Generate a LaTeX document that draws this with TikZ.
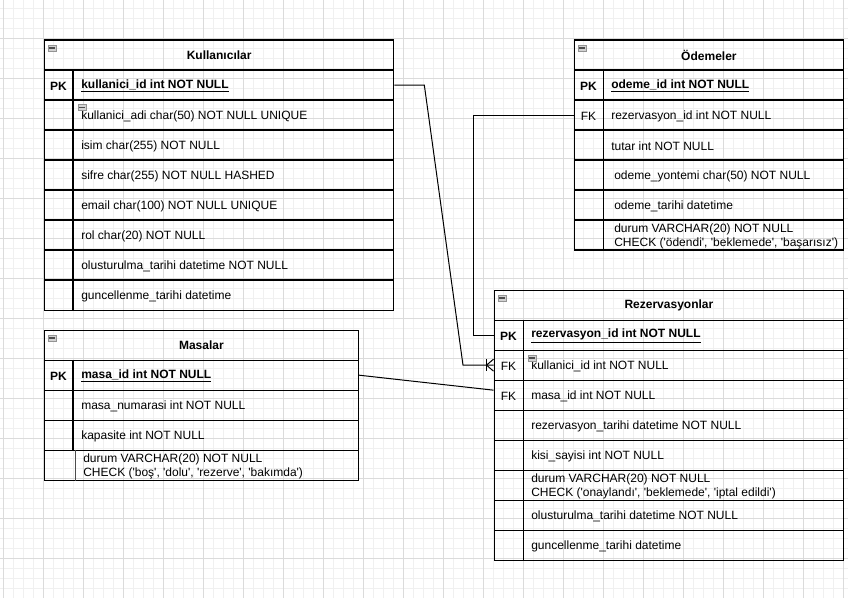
\documentclass[tikz,border=0pt]{standalone}
\usepackage{fontspec}
\newfontfamily\erfont{Liberation Sans}
\tikzset{
  tabhead/.style={draw, line width=1pt, anchor=north west, inner sep=0pt, minimum height=22.5pt, font=\erfont\fontsize{9}{10.5}\selectfont\bfseries},
  tabrow/.style={draw, line width=1pt, anchor=north west, inner sep=0pt, minimum height=22.5pt},
  tabline/.style={line width=1pt},
  keytxt/.style={anchor=center, inner sep=0pt, yshift=-1.2pt, font=\erfont\fontsize{9}{10.5}\selectfont},
  coltxt/.style={anchor=west, inner sep=0pt, yshift=-1.2pt, align=left, font=\erfont\fontsize{9}{10.5}\selectfont},
  collapse/.style={draw=gray!85, fill=gray!35, line width=0.4pt, inner sep=0pt, minimum width=6.3pt, minimum height=4.8pt,
    path picture={\draw[line width=1.3pt, black!70] ([xshift=1pt]path picture bounding box.west) -- ([xshift=-1pt]path picture bounding box.east);}},
  conn/.style={line width=0.75pt},
  gridminor/.style={line width=0.75pt, black!6},
  gridmajor/.style={line width=0.75pt, black!14},
}
\begin{document}
\begin{tikzpicture}[x=0.75pt,y=0.75pt,yscale=-1]
\useasboundingbox (0,0) rectangle (848,598);
\fill[white] (0,0) rectangle (848,598);

% Grid
\foreach \i in {0,...,84} \draw[gridminor] (\i*10+3.3,0) -- (\i*10+3.3,598);
\foreach \i in {0,...,59} \draw[gridminor] (0,\i*10+8.3) -- (848,\i*10+8.3);
\foreach \i in {0,...,21} \draw[gridmajor] (\i*40+3.3,0) -- (\i*40+3.3,598);
\foreach \i in {0,...,14} \draw[gridmajor] (0,\i*40+38.3) -- (848,\i*40+38.3);

%Table: Kullanicilar
\node [tabhead, minimum width=261.75pt] (kul) at (44,39.5) {Kullanıcılar};
\node [tabrow, minimum width=261.75pt] (kul1) at (44,69.5) {};
\node [tabrow, minimum width=261.75pt] (kul2) at (44,99.5) {};
\node [tabrow, minimum width=261.75pt] (kul3) at (44,129.5) {};
\node [tabrow, minimum width=261.75pt] (kul4) at (44,159.5) {};
\node [tabrow, minimum width=261.75pt] (kul5) at (44,189.5) {};
\node [tabrow, minimum width=261.75pt] (kul6) at (44,219.5) {};
\node [tabrow, minimum width=261.75pt] (kul7) at (44,249.5) {};
\node [tabrow, minimum width=261.75pt] (kul8) at (44,279.5) {};
\draw [tabline] ([xshift=21.75pt]kul1.north west) -- ([xshift=21.75pt]kul8.south west);
% Text Node
\node [keytxt] (kul1k) at (58.5,84.5) {\textbf{PK}};
\node [coltxt] (kul1t) at (81,84.5) {\underline{\textbf{kullanici\_id int NOT NULL}}};
\node [coltxt] (kul2t) at (81,114.5) {kullanici\_adi char(50) NOT NULL UNIQUE};
\node [coltxt] (kul3t) at (81,144.5) {isim char(255) NOT NULL};
\node [coltxt] (kul4t) at (81,174.5) {sifre char(255) NOT NULL HASHED};
\node [coltxt] (kul5t) at (81,204.5) {email char(100) NOT NULL UNIQUE};
\node [coltxt] (kul6t) at (81,234.5) {rol char(20) NOT NULL};
\node [coltxt] (kul7t) at (81,264.5) {olusturulma\_tarihi datetime NOT NULL};
\node [coltxt] (kul8t) at (81,294.5) {guncellenme\_tarihi datetime};
\node [collapse] (kulc) at (52,48) {};
\node [collapse] (kul2c) at (82,107.5) {};

%Table: Masalar
\node [tabhead, minimum width=235.125pt] (mas) at (44,329.5) {Masalar};
\node [tabrow, minimum width=235.125pt] (mas1) at (44,359.5) {};
\node [tabrow, minimum width=235.125pt] (mas2) at (44,389.5) {};
\node [tabrow, minimum width=235.125pt] (mas3) at (44,419.5) {};
\node [tabrow, minimum width=235.125pt] (mas4) at (44,449.5) {};
\draw [tabline] ([xshift=21.75pt]mas1.north west) -- ([xshift=21.75pt]mas3.south west);
\draw [line width=0.6pt, black!70] ([xshift=23.25pt]mas4.north west) -- ([xshift=23.25pt]mas4.south west);
% Text Node
\node [keytxt] (mas1k) at (58.5,374.5) {\textbf{PK}};
\node [coltxt] (mas1t) at (81,374.5) {\underline{\textbf{masa\_id int NOT NULL}}};
\node [coltxt] (mas2t) at (81,404.5) {masa\_numarasi int NOT NULL};
\node [coltxt] (mas3t) at (81,434.5) {kapasite int NOT NULL};
\node [coltxt] (mas4t) at (83,464.5) {durum VARCHAR(20) NOT NULL\\CHECK ('boş', 'dolu', 'rezerve', 'bakımda')};
\node [collapse] (masc) at (52,338) {};

%Table: Odemeler
\node [tabhead, minimum width=202.125pt] (ode) at (573.5,39.5) {Ödemeler};
\node [tabrow, minimum width=202.125pt] (ode1) at (573.5,69.5) {};
\node [tabrow, minimum width=202.125pt] (ode2) at (573.5,99.5) {};
\node [tabrow, minimum width=202.125pt] (ode3) at (573.5,129.5) {};
\node [tabrow, minimum width=202.125pt] (ode4) at (573.5,159.5) {};
\node [tabrow, minimum width=202.125pt] (ode5) at (573.5,189.5) {};
\node [tabrow, minimum width=202.125pt] (ode6) at (573.5,219.5) {};
\draw [tabline] ([xshift=22.5pt]ode1.north west) -- ([xshift=22.5pt]ode6.south west);
% Text Node
\node [keytxt] (ode1k) at (588.5,84.5) {\textbf{PK}};
\node [keytxt] (ode2k) at (588.5,114.5) {FK};
\node [coltxt] (ode1t) at (611,84.5) {\underline{\textbf{odeme\_id int NOT NULL}}};
\node [coltxt] (ode2t) at (611,114.5) {rezervasyon\_id int NOT NULL};
\node [coltxt] (ode3t) at (611,144.5) {tutar int NOT NULL};
\node [coltxt] (ode4t) at (614,174.5) {odeme\_yontemi char(50) NOT NULL};
\node [coltxt] (ode5t) at (614,204.5) {odeme\_tarihi datetime};
\node [coltxt] (ode6t) at (614,234.5) {durum VARCHAR(20) NOT NULL\\CHECK ('ödendi', 'beklemede', 'başarısız')};
\node [collapse] (odec) at (582,48) {};

%Table: Rezervasyonlar
\node [tabhead, minimum width=262.125pt] (rez) at (493.5,289.5) {Rezervasyonlar};
\node [tabrow, minimum width=262.125pt] (rez1) at (493.5,319.5) {};
\node [tabrow, minimum width=262.125pt] (rez2) at (493.5,349.5) {};
\node [tabrow, minimum width=262.125pt] (rez3) at (493.5,379.5) {};
\node [tabrow, minimum width=262.125pt] (rez4) at (493.5,409.5) {};
\node [tabrow, minimum width=262.125pt] (rez5) at (493.5,439.5) {};
\node [tabrow, minimum width=262.125pt] (rez6) at (493.5,469.5) {};
\node [tabrow, minimum width=262.125pt] (rez7) at (493.5,499.5) {};
\node [tabrow, minimum width=262.125pt] (rez8) at (493.5,529.5) {};
\draw [tabline] ([xshift=22.5pt]rez1.north west) -- ([xshift=22.5pt]rez8.south west);
% Text Node
\node [keytxt] (rez1k) at (508.5,334.5) {\textbf{PK}};
\node [keytxt] (rez2k) at (508.5,364.5) {FK};
\node [keytxt] (rez3k) at (508.5,394.5) {FK};
\node [coltxt] (rez1t) at (531,334.5) {\underline{\textbf{rezervasyon\_id int NOT NULL}}};
\node [coltxt] (rez2t) at (531,364.5) {kullanici\_id int NOT NULL};
\node [coltxt] (rez3t) at (531,394.5) {masa\_id int NOT NULL};
\node [coltxt] (rez4t) at (531,424.5) {rezervasyon\_tarihi datetime NOT NULL};
\node [coltxt] (rez5t) at (531,454.5) {kisi\_sayisi int NOT NULL};
\node [coltxt] (rez6t) at (531,484.5) {durum VARCHAR(20) NOT NULL\\CHECK ('onaylandı', 'beklemede', 'iptal edildi')};
\node [coltxt] (rez7t) at (531,514.5) {olusturulma\_tarihi datetime NOT NULL};
\node [coltxt] (rez8t) at (531,544.5) {guncellenme\_tarihi datetime};
\node [collapse] (rezc) at (502,298) {};
\node [collapse] (rez2c) at (532,358) {};

%Relations
\draw [conn] (kul1.east) -- ++(30,0) -- ([xshift=-22.875pt]rez2.west) -- (rez2.west);
\draw [conn] ([xshift=-5.25pt,yshift=-4.5pt]rez2.west) -- ([xshift=-5.25pt,yshift=4.5pt]rez2.west);
\draw [conn] ([yshift=-4.5pt]rez2.west) -- ([xshift=-5.25pt]rez2.west) -- ([yshift=4.5pt]rez2.west);
\draw [conn] (ode2.west) -- ++(-100,0) -- ([xshift=-15pt]rez1.west) -- (rez1.west);
\draw [conn] (mas1.east) -- ([yshift=-3.75pt]rez3.west);

\end{tikzpicture}
\end{document}
